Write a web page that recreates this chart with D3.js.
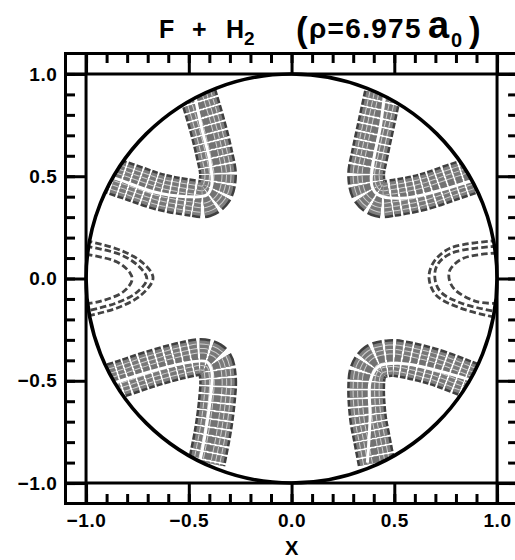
<!DOCTYPE html>
<html>
<head>
<meta charset="utf-8">
<script src="https://cdn.jsdelivr.net/npm/d3@7"></script>
<style>
  body { margin: 0; background: #fff; }
  svg { display: block; }
  text { font-family: "Liberation Sans", Arial, sans-serif; font-weight: bold; fill: #000; }
</style>
</head>
<body>
<svg id="chart" width="515" height="560"></svg>
<script>
// Tick positions and labels
const majorTicks = [-1.0, -0.5, 0.0, 0.5, 1.0];
const minorTicks = [-1.0, -0.9, -0.8, -0.7, -0.6, -0.5, -0.4, -0.3, -0.2, -0.1, 0.0,
                    0.1, 0.2, 0.3, 0.4, 0.5, 0.6, 0.7, 0.8, 0.9, 1.0];
const xTickLabels = ["\u22121.0", "\u22120.5", "0.0", "0.5", "1.0"];
const yTickLabels = ["\u22121.0", "\u22120.5", "0.0", "0.5", "1.0"];

// Corner lobes: ridge of each contour band and its white parting line (x, y)
const ridgeUL = [[-0.455, 0.900], [-0.411, 0.751], [-0.377, 0.614], [-0.358, 0.501], [-0.377, 0.423],
                 [-0.421, 0.389], [-0.484, 0.394], [-0.640, 0.423], [-0.786, 0.472], [-0.950, 0.527]];
const gapUL   = [[-0.472, 0.900], [-0.437, 0.734], [-0.397, 0.571], [-0.388, 0.457], [-0.413, 0.408],
                 [-0.510, 0.400], [-0.673, 0.424], [-0.835, 0.482], [-0.950, 0.522]];

const ridgeUR = [[0.443, 0.900], [0.411, 0.751], [0.382, 0.614], [0.363, 0.501], [0.382, 0.423],
                 [0.431, 0.389], [0.494, 0.394], [0.640, 0.423], [0.786, 0.472], [0.950, 0.527]];
const gapUR   = [[0.452, 0.900], [0.431, 0.734], [0.398, 0.571], [0.390, 0.457], [0.422, 0.408],
                 [0.536, 0.392], [0.698, 0.424], [0.860, 0.473], [0.950, 0.503]];

const ridgeLL = [[-0.950, -0.527], [-0.820, -0.487], [-0.689, -0.443], [-0.528, -0.399], [-0.431, -0.384],
                 [-0.377, -0.408], [-0.358, -0.487], [-0.363, -0.594], [-0.382, -0.741], [-0.413, -0.900]];
const gapLL   = [[-0.950, -0.540], [-0.867, -0.512], [-0.689, -0.456], [-0.527, -0.415], [-0.413, -0.407],
                 [-0.388, -0.456], [-0.397, -0.602], [-0.421, -0.765], [-0.447, -0.900]];

const ridgeLR = [[0.413, -0.900], [0.390, -0.780], [0.372, -0.682], [0.363, -0.535], [0.372, -0.457],
                 [0.406, -0.408], [0.479, -0.389], [0.538, -0.394], [0.698, -0.433], [0.844, -0.487], [0.950, -0.527]];
const gapLR   = [[0.369, -0.900], [0.382, -0.684], [0.382, -0.505], [0.422, -0.431], [0.536, -0.415],
                 [0.698, -0.447], [0.844, -0.488], [0.950, -0.520]];

// Side wells: three dashed contours each
const leftOuter  = [[-1.00, 0.185], [-0.835, 0.139], [-0.723, 0.076], [-0.674, 0.002], [-0.732, -0.081], [-0.849, -0.144], [-1.00, -0.185]];
const leftMid    = [[-1.00, 0.158], [-0.835, 0.118], [-0.745, 0.061], [-0.704, -0.002], [-0.757, -0.071], [-0.859, -0.122], [-1.00, -0.160]];
const leftInner  = [[-1.00, 0.118], [-0.849, 0.081], [-0.786, 0.027], [-0.776, -0.007], [-0.820, -0.066], [-0.932, -0.112], [-1.00, -0.124]];
const rightOuter = [[1.00, 0.185], [0.771, 0.148], [0.689, 0.076], [0.669, 0.002], [0.703, -0.081], [0.820, -0.144], [1.00, -0.192]];
const rightMid   = [[1.00, 0.158], [0.776, 0.123], [0.708, 0.064], [0.698, -0.002], [0.726, -0.066], [0.830, -0.122], [1.00, -0.163]];
const rightInner = [[1.00, 0.125], [0.836, 0.099], [0.771, 0.042], [0.768, -0.007], [0.796, -0.056], [0.901, -0.113], [1.00, -0.122]];

const svg = d3.select("#chart");

const x = d3.scaleLinear().domain([-1.1, 1.1]).range([65.5, 517.6]);
const y = d3.scaleLinear().domain([-1.1, 1.1]).range([503.5, 53.5]);

const line = d3.line()
  .x(d => x(d[0]))
  .y(d => y(d[1]))
  .curve(d3.curveCatmullRom.alpha(0.5));

// Contours are confined to the unit disk
svg.append("clipPath").attr("id", "disk")
  .append("ellipse")
  .attr("cx", x(0)).attr("cy", y(0))
  .attr("rx", x(1) - x(0)).attr("ry", y(0) - y(1));

const contours = svg.append("g").attr("clip-path", "url(#disk)");

// Stacked strokes along each ridge give the bundle of closely spaced dashed contours
const stripes = [
  { w: 38, c: "#3f3f3f" },
  { w: 33, c: "#7e7e7e" },
  { w: 27, c: "#cfcfcf" },
  { w: 25, c: "#777777" },
  { w: 18, c: "#cfcfcf" },
  { w: 16, c: "#7a7a7a" },
  { w: 9,  c: "#cfcfcf" },
  { w: 7,  c: "#727272" }
];

const bands = [
  { ridge: ridgeUL, gap: gapUL },
  { ridge: ridgeUR, gap: gapUR },
  { ridge: ridgeLL, gap: gapLL },
  { ridge: ridgeLR, gap: gapLR }
];

bands.forEach(b => {
  stripes.forEach(s => {
    contours.append("path")
      .attr("d", line(b.ridge))
      .attr("fill", "none")
      .attr("stroke", s.c)
      .attr("stroke-width", s.w)
      .attr("stroke-dasharray", "6.2,2.1")
      .attr("stroke-linejoin", "round");
  });
  contours.append("path")
    .attr("d", line(b.gap))
    .attr("fill", "none")
    .attr("stroke", "#fff")
    .attr("stroke-width", 3);
});

[leftOuter, leftMid, leftInner, rightOuter, rightMid, rightInner].forEach(c => {
  contours.append("path")
    .attr("d", line(c))
    .attr("fill", "none")
    .attr("stroke", "#444")
    .attr("stroke-width", 2.8)
    .attr("stroke-dasharray", "6.5,3");
});

// Unit circle
svg.append("ellipse")
  .attr("cx", x(0)).attr("cy", y(0))
  .attr("rx", x(1) - x(0)).attr("ry", y(0) - y(1))
  .attr("fill", "none").attr("stroke", "#000").attr("stroke-width", 3.6);

// Frame and the lines at +-1
const frame = svg.append("g").attr("stroke", "#000").attr("stroke-width", 3).attr("fill", "none");
frame.append("rect")
  .attr("x", x(-1.1)).attr("y", y(1.1))
  .attr("width", x(1.1) - x(-1.1)).attr("height", y(-1.1) - y(1.1));
[-1, 1].forEach(v => {
  frame.append("line").attr("x1", x(v)).attr("x2", x(v)).attr("y1", y(1.1)).attr("y2", y(-1.1));
  frame.append("line").attr("y1", y(v)).attr("y2", y(v)).attr("x1", x(-1.1)).attr("x2", x(1.1));
});

const majorLen = x(-1.0) - x(-1.1);
const minorLen = 9.5;

function styleAxis(g) {
  g.select(".domain").remove();
  g.selectAll(".tick line").attr("stroke", "#000").attr("stroke-width", 3);
  g.selectAll(".tick text")
    .style("font-size", "19px")
    .style("font-weight", "bold")
    .style("letter-spacing", "0.6px")
    .attr("fill", "#000");
}

// Bottom
svg.append("g").attr("transform", `translate(0,${y(-1.1)})`)
  .call(d3.axisBottom(x).tickValues(minorTicks).tickSizeInner(-minorLen).tickSizeOuter(0).tickFormat(""))
  .call(styleAxis);
svg.append("g").attr("transform", `translate(0,${y(-1.1)})`)
  .call(d3.axisBottom(x).tickValues(majorTicks).tickSizeInner(-majorLen).tickSizeOuter(0)
    .tickPadding(10).tickFormat((d, i) => xTickLabels[i]))
  .call(styleAxis);

// Top
svg.append("g").attr("transform", `translate(0,${y(1.1)})`)
  .call(d3.axisTop(x).tickValues(minorTicks).tickSizeInner(-minorLen).tickSizeOuter(0).tickFormat(""))
  .call(styleAxis);
svg.append("g").attr("transform", `translate(0,${y(1.1)})`)
  .call(d3.axisTop(x).tickValues(majorTicks).tickSizeInner(-majorLen).tickSizeOuter(0).tickFormat(""))
  .call(styleAxis);

// Left
svg.append("g").attr("transform", `translate(${x(-1.1)},0)`)
  .call(d3.axisLeft(y).tickValues(minorTicks).tickSizeInner(-minorLen).tickSizeOuter(0).tickFormat(""))
  .call(styleAxis);
svg.append("g").attr("transform", `translate(${x(-1.1)},0)`)
  .call(d3.axisLeft(y).tickValues(majorTicks).tickSizeInner(-majorLen).tickSizeOuter(0)
    .tickPadding(8).tickFormat((d, i) => yTickLabels[i]))
  .call(styleAxis);

// Right
svg.append("g").attr("transform", `translate(${x(1.1)},0)`)
  .call(d3.axisRight(y).tickValues(minorTicks).tickSizeInner(-minorLen).tickSizeOuter(0).tickFormat(""))
  .call(styleAxis);
svg.append("g").attr("transform", `translate(${x(1.1)},0)`)
  .call(d3.axisRight(y).tickValues(majorTicks).tickSizeInner(-majorLen).tickSizeOuter(0).tickFormat(""))
  .call(styleAxis);

// Axis title
svg.append("text")
  .attr("x", x(0)).attr("y", 555)
  .attr("text-anchor", "middle")
  .style("font-size", "20px")
  .text("X");

// Title: F + H2  (rho = 6.975 a0)
const title = svg.append("text").attr("y", 38);
title.append("tspan").attr("x", 159).attr("y", 38).style("font-size", "25px").text("F");
title.append("tspan").attr("x", 192).attr("y", 38).style("font-size", "25px").text("+");
title.append("tspan").attr("x", 226).attr("y", 38).style("font-size", "25px").text("H");
title.append("tspan").attr("x", 244).attr("y", 45).style("font-size", "19px").text("2");
title.append("tspan").attr("x", 296).attr("y", 42).style("font-size", "35px").text("(");
title.append("tspan").attr("x", 309).attr("y", 38).style("font-size", "28px").style("letter-spacing", "1.3px").text("\u03c1=6.975");
title.append("tspan").attr("x", 428).attr("y", 38).style("font-size", "38px").text("a");
title.append("tspan").attr("x", 451).attr("y", 47).style("font-size", "20px").text("0");
title.append("tspan").attr("x", 469).attr("y", 42).style("font-size", "35px").text(")");
</script>
</body>
</html>
